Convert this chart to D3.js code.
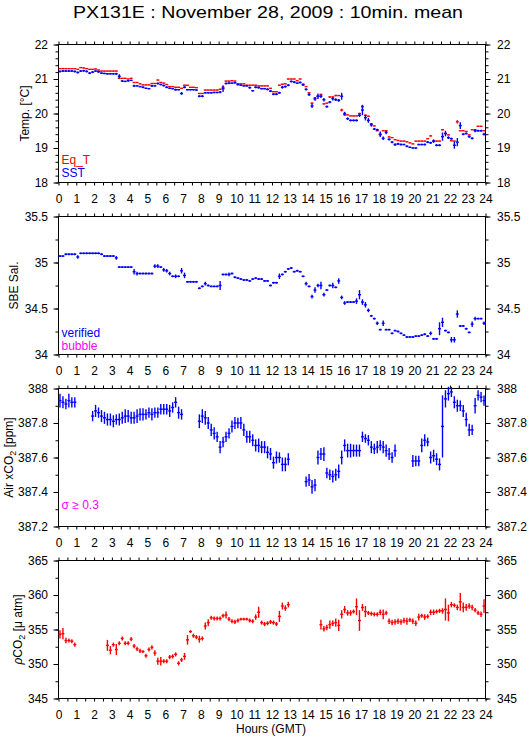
<!DOCTYPE html>
<html><head><meta charset="utf-8">
<script src="https://cdn.jsdelivr.net/npm/d3@7"></script>
<style>
body{margin:0;background:#fff}
svg{display:block}
text{font-family:"Liberation Sans",Arial,Helvetica,sans-serif;fill:#000}
</style>
</head><body>
<svg id="chart" width="529" height="739"></svg>
<script>
// ---------- categories / ticks ----------
const hourLabels = ["0","1","2","3","4","5","6","7","8","9","10","11","12","13","14","15","16","17","18","19","20","21","22","23","24"];
const tempTicks = [18,19,20,21,22];
const salTicks = [34,34.5,35,35.5];
const airTicks = [387.2,387.4,387.6,387.8,388];
const pco2Ticks = [345,350,355,360,365];

// 10-minute slots (minutes of day, centre of each slot)
const slotMinutes = d3.range(5, 1440, 10);

// ---------- series (one row per hour, six 10-min means each) ----------
const eqT = [
 21.30,21.30,21.30,21.30,21.30,21.30,
 21.28,21.33,21.32,21.30,21.28,21.28,
 21.29,21.26,21.23,21.23,21.23,21.23,
 21.23,21.23,21.02,21.02,21.02,21.00,
 21.02,20.90,20.90,20.86,20.83,20.83,
 20.83,20.87,20.87,20.97,20.90,20.88,
 20.84,20.78,20.78,20.76,20.76,20.73,
 20.82,20.82,20.76,20.76,20.75,20.58,
 20.58,20.68,20.68,20.68,20.68,20.68,
 20.70,20.76,20.94,20.94,20.95,20.94,
 20.86,20.86,20.86,20.82,20.82,20.82,
 20.82,20.80,20.80,20.80,20.80,20.73,
 20.63,20.63,20.82,20.85,20.86,21.00,
 21.00,21.00,20.95,21.00,20.85,20.78,
 20.60,20.30,20.45,20.50,20.55,20.28,
 20.30,20.48,20.48,20.52,20.52,20.10,
 19.96,19.96,19.93,19.93,19.93,20.00,
 20.20,19.95,19.92,19.70,19.64,19.50,
 19.38,19.50,19.50,19.32,19.30,19.24,
 19.22,19.20,19.20,19.18,19.15,19.12,
 19.20,19.20,19.20,19.20,19.27,19.35,
 19.20,19.20,19.20,19.53,19.42,19.38,
 19.21,19.20,19.76,19.50,19.50,19.48,
 19.38,19.53,19.53,19.63,19.63,19.50];
const eqTSd = [
 .01,.01,.01,.01,.01,.01, .01,.01,.01,.01,.01,.01, .01,.01,.01,.01,.01,.01, .01,.01,.01,.01,.01,.01,
 .01,.01,.01,.01,.01,.01, .01,.01,.01,.01,.01,.01, .01,.01,.01,.01,.01,.01, .01,.01,.01,.01,.01,.01,
 .01,.01,.01,.01,.01,.01, .02,.02,.01,.01,.01,.01, .01,.01,.01,.01,.01,.01, .01,.01,.01,.01,.01,.01,
 .01,.01,.01,.01,.01,.01, .01,.01,.01,.01,.01,.01, .01,.02,.02,.03,.02,.02, .01,.02,.01,.02,.01,.04,
 .02,.01,.01,.01,.01,.02, .05,.02,.02,.01,.01,.01, .01,.01,.02,.01,.01,.01, .01,.01,.01,.01,.01,.01,
 .01,.01,.01,.01,.01,.01, .01,.01,.01,.02,.02,.01, .01,.01,.05,.01,.01,.01, .01,.01,.01,.01,.01,.01];

const sst = [
 21.22,21.23,21.23,21.23,21.23,21.22,
 21.19,21.23,21.24,21.22,21.17,21.20,
 21.23,21.21,21.17,21.16,21.15,21.15,
 21.15,21.15,21.08,20.94,20.93,20.95,
 20.96,20.80,20.80,20.78,20.76,20.73,
 20.72,20.80,20.80,20.87,20.84,20.81,
 20.76,20.73,20.72,20.69,20.69,20.58,
 20.76,20.69,20.69,20.69,20.68,20.50,
 20.50,20.60,20.60,20.60,20.61,20.61,
 20.62,20.72,20.87,20.88,20.88,20.89,
 20.84,20.82,20.80,20.80,20.75,20.66,
 20.76,20.75,20.72,20.72,20.70,20.65,
 20.56,20.56,20.60,20.76,20.78,20.82,
 20.93,20.91,20.88,20.90,20.83,20.70,
 20.55,20.22,20.42,20.50,20.50,20.40,
 20.20,20.33,20.43,20.40,20.38,20.50,
 20.00,19.85,19.80,19.80,19.80,19.95,
 20.10,19.88,19.80,19.67,19.55,19.53,
 19.40,19.28,19.45,19.25,19.17,19.10,
 19.12,19.10,19.10,19.05,19.02,19.00,
 19.00,19.10,19.10,19.10,19.17,19.15,
 19.20,19.08,19.08,19.33,19.42,19.30,
 19.27,19.08,19.17,19.65,19.40,19.42,
 19.33,19.28,19.50,19.50,19.50,19.40];
const sstSd = [
 .03,.03,.03,.03,.03,.03, .03,.03,.03,.03,.03,.03, .02,.03,.02,.02,.02,.02, .02,.03,.06,.03,.02,.03,
 .02,.03,.02,.02,.03,.02, .02,.03,.02,.03,.02,.03, .03,.02,.02,.03,.02,.04, .03,.02,.02,.02,.02,.03,
 .03,.02,.02,.02,.02,.02, .03,.10,.03,.03,.02,.02, .03,.02,.02,.02,.03,.02, .03,.03,.02,.02,.03,.03,
 .03,.03,.03,.04,.03,.03, .03,.03,.02,.03,.03,.03, .04,.06,.05,.08,.05,.05, .03,.03,.05,.04,.04,.10,
 .05,.04,.03,.03,.03,.05, .15,.08,.07,.05,.03,.03, .08,.05,.05,.03,.03,.04, .03,.03,.02,.03,.02,.02,
 .02,.02,.02,.03,.03,.03, .05,.03,.03,.12,.08,.04, .03,.10,.12,.10,.03,.03, .03,.03,.04,.03,.03,.04];

const salinity = [
 35.07,35.07,35.09,35.09,35.09,35.09,
 35.06,35.10,35.10,35.10,35.10,35.10,
 35.10,35.10,35.09,35.07,35.07,35.07,
 35.07,35.05,34.95,34.95,34.95,34.95,
 34.95,34.90,34.88,34.88,34.88,34.88,
 34.88,34.88,34.96,34.96,34.95,34.92,
 34.91,34.88,34.85,34.85,34.85,34.91,
 34.86,34.79,34.79,34.79,34.79,34.72,
 34.74,34.77,34.75,34.74,34.74,34.74,
 34.75,34.87,34.87,34.87,34.88,34.84,
 34.83,34.82,34.81,34.81,34.80,34.82,
 34.83,34.82,34.82,34.80,34.80,34.75,
 34.78,34.78,34.85,34.87,34.90,34.93,
 34.94,34.90,34.91,34.90,34.85,34.77,
 34.74,34.63,34.70,34.75,34.75,34.65,
 34.70,34.75,34.75,34.73,34.80,34.62,
 34.56,34.57,34.57,34.57,34.58,34.65,
 34.57,34.54,34.48,34.42,34.39,34.34,
 34.27,34.34,34.27,34.27,34.23,34.26,
 34.25,34.23,34.21,34.19,34.19,34.19,
 34.20,34.20,34.21,34.22,34.20,34.23,
 34.17,34.17,34.28,34.35,34.26,34.24,
 34.16,34.16,34.44,34.31,34.31,34.28,
 34.24,34.33,34.39,34.39,34.39,34.34];
const salSd = [
 .01,.01,.01,.01,.01,.01, .02,.01,.01,.01,.01,.01, .01,.01,.01,.01,.01,.01, .01,.02,.01,.01,.01,.01,
 .01,.03,.02,.01,.01,.01, .01,.01,.02,.02,.01,.02, .02,.02,.01,.02,.01,.03, .03,.01,.01,.01,.01,.01,
 .01,.02,.01,.01,.01,.01, .05,.01,.01,.02,.01,.01, .01,.01,.01,.01,.01,.01, .01,.01,.01,.01,.01,.01,
 .01,.01,.03,.01,.01,.01, .01,.01,.01,.01,.01,.02, .01,.02,.03,.02,.04,.02, .01,.01,.03,.01,.03,.02,
 .02,.01,.01,.01,.03,.05, .03,.03,.02,.01,.01,.02, .01,.03,.01,.01,.01,.01, .01,.01,.01,.01,.01,.01,
 .01,.01,.01,.01,.01,.02, .01,.01,.07,.05,.01,.01, .03,.03,.04,.01,.01,.01, .01,.03,.02,.01,.01,.02];

const airXCO2 = [
 387.93,387.92,387.91,387.93,387.92,387.92,
 null,null,null,null,null,387.84,
 387.87,387.86,387.84,387.83,387.82,387.82,
 387.81,387.82,387.82,387.83,387.84,387.84,
 387.83,387.83,387.84,387.85,387.85,387.85,
 387.86,387.85,387.86,387.86,387.88,387.88,
 387.88,387.87,387.89,387.92,387.86,387.85,
 null,null,null,null,null,387.81,
 387.84,387.83,387.80,387.76,387.74,387.72,
 387.66,387.69,387.72,387.74,387.78,387.80,
 387.80,387.80,387.76,387.72,387.72,387.70,
 387.67,387.67,387.66,387.66,387.63,387.62,
 387.57,387.60,387.60,387.56,387.56,387.59,
 null,null,null,null,null,387.46,
 387.47,387.43,387.44,387.60,387.62,387.62,
 387.51,387.50,387.49,387.50,387.52,387.60,
 387.67,387.64,387.64,387.64,387.64,387.64,
 387.72,387.71,387.70,387.66,387.65,387.66,
 387.67,387.66,387.64,387.62,387.60,387.64,
 null,null,null,null,null,387.58,
 387.58,387.58,387.67,387.70,387.69,387.60,
 387.61,387.59,387.56,387.78,387.94,387.97,
 387.98,387.92,387.90,387.90,387.87,387.82,
 387.76,387.76,387.90,387.96,387.95,387.93];
const airSd = [
 .04,.035,.03,.04,.03,.03, 0,0,0,0,0,.03, .035,.03,.035,.035,.035,.035, .035,.03,.035,.035,.04,.035,
 .035,.035,.04,.035,.035,.03, .03,.035,.03,.03,.03,.03, .03,.035,.03,.03,.035,.03, 0,0,0,0,0,.04,
 .04,.04,.035,.035,.035,.03, .035,.03,.03,.03,.035,.035, .03,.035,.035,.035,.035,.035, .035,.04,.035,.035,.035,.035,
 .035,.035,.03,.04,.04,.035, 0,0,0,0,0,.03, .035,.04,.035,.04,.035,.04, .03,.03,.035,.035,.04,.04,
 .035,.04,.04,.035,.035,.035, .03,.025,.03,.035,.03,.035, .03,.035,.035,.035,.03,.035, 0,0,0,0,0,.035,
 .03,.03,.04,.035,.025,.035, .035,.035,.035,.18,.05,.04, .03,.035,.035,.03,.035,.04, .035,.03,.045,.03,.03,.03];

const pCO2 = [
 354.3,354.4,353.4,353.4,353.3,352.8,
 null,null,null,null,null,null,
 null,null,null,null,352.7,352.0,
 352.8,352.1,353.0,353.7,353.0,353.0,
 353.6,352.6,352.2,351.9,351.8,351.2,
 352.1,352.4,351.6,350.4,350.4,350.4,
 350.4,351.0,351.1,351.4,350.1,350.6,
 351.1,353.5,354.7,354.1,353.9,353.6,
 353.7,355.5,356.0,356.7,356.6,356.6,
 356.6,357.0,357.1,356.5,356.2,356.1,
 356.3,356.5,356.5,356.5,356.3,356.2,
 356.8,357.5,356.0,355.8,355.9,356.1,
 356.0,355.8,356.9,358.4,358.1,358.6,
 null,null,null,null,null,null,
 null,null,null,null,355.7,355.1,
 355.3,355.7,355.9,356.0,355.6,357.2,
 357.9,357.4,357.4,357.6,358.3,356.3,
 358.2,357.6,357.4,357.3,357.2,357.2,
 357.5,357.2,357.4,356.2,356.0,356.1,
 356.2,356.1,356.3,356.2,356.4,356.2,
 355.9,356.8,357.0,356.8,356.9,357.5,
 357.5,357.6,357.7,357.7,357.9,357.4,
 358.6,358.5,358.2,359.0,358.2,358.2,
 358.4,358.2,357.8,357.4,357.2,358.4];
const pco2Sd = [
 .6,.8,.4,.3,.3,.3, 0,0,0,0,0,0, 0,0,0,0,.8,.6, .3,.8,.3,.3,.3,.3, .3,.3,.3,.3,.2,.3,
 .3,.3,.4,.5,.6,.3, .3,.3,.3,.3,.3,.3, .5,.7,.2,.3,.3,.5, .3,.5,.5,.3,.3,.3, .3,.3,.5,.3,.3,.3,
 .3,.2,.2,.2,.3,.3, .4,.8,.3,.3,.3,.3, .3,.3,.8,.5,.4,.4, 0,0,0,0,0,0, 0,0,0,0,.7,.4,
 .4,.6,.4,.6,.8,.6, .5,.4,.4,.3,1.2,1.5, .5,.8,.3,.3,.3,.3, .4,.7,.3,.4,.4,.4, .4,.4,.4,.5,.3,.4,
 .4,.5,.3,.4,.3,.4, .4,.3,.3,.4,1.6,1.2, .4,.3,.4,1.3,.7,.5, .4,.4,.3,.3,.4,1.0];

// ---------- layout ----------
const svg = d3.select("#chart");
const x = d3.scaleLinear().domain([0, 24]).range([58.5, 485.5]);
const panelH = 138, panelTops = [44.5, 216.5, 388.5, 560.5];
const FONT = 12;

svg.append("text").attr("x", 268).attr("y", 17.5).attr("text-anchor", "middle")
  .attr("font-size", 17).attr("textLength", 390).attr("lengthAdjust", "spacingAndGlyphs")
  .text("PX131E : November 28, 2009 : 10min. mean");

function drawPanel(top, domain, majors, minorStep, fmt) {
  const y = d3.scaleLinear().domain(domain).range([top + panelH, top]);
  const g = svg.append("g");
  const minors = d3.range(domain[0], domain[1] + minorStep / 2, minorStep);
  const halfHours = d3.range(0, 24.01, 0.5);
  const clean = s => s.select(".domain").remove();
  // x axes
  g.append("g").attr("transform", `translate(0,${top})`)
    .call(d3.axisTop(x).tickValues(halfHours).tickSize(3).tickFormat("")).call(clean);
  g.append("g").attr("transform", `translate(0,${top + panelH})`)
    .call(d3.axisBottom(x).tickValues(halfHours).tickSize(3).tickFormat("")).call(clean);
  g.append("g").attr("transform", `translate(0,${top + panelH})`)
    .call(d3.axisBottom(x).tickValues(d3.range(0, 25)).tickSize(0).tickPadding(12)
      .tickFormat((d, i) => hourLabels[i])).call(clean)
    .selectAll("text").attr("font-size", FONT).attr("font-family", null);
  // y axes
  [[d3.axisLeft, 58.5, 5.5], [d3.axisRight, 485.5, 6.5]].forEach(([ax, px, pad]) => {
    g.append("g").attr("transform", `translate(${px},0)`)
      .call(ax(y).tickValues(minors).tickSize(3).tickFormat("")).call(clean);
    g.append("g").attr("transform", `translate(${px},0)`)
      .call(ax(y).tickValues(majors).tickSize(5).tickPadding(pad).tickFormat(fmt)).call(clean)
      .selectAll("text").attr("font-size", FONT).attr("font-family", null);
  });
  g.selectAll(".tick line").attr("stroke", "#000");
  g.selectAll("g").attr("font-family", null);
  g.append("rect").attr("x", 58.5).attr("y", top).attr("width", 427).attr("height", panelH)
    .attr("fill", "none").attr("stroke", "#000").attr("stroke-width", 1);
  return y;
}

function drawSeries(y, vals, sds, color) {
  const half = 5 / 60;
  const pts = vals.map((v, i) => ({t: slotMinutes[i] / 60, v, s: sds[i]})).filter(d => d.v != null);
  const g = svg.append("g").attr("stroke", color).attr("stroke-width", 1.4).attr("fill", "none");
  g.selectAll("line.h").data(pts).join("line").attr("class", "h")
    .attr("x1", d => x(d.t - half)).attr("x2", d => x(d.t + half))
    .attr("y1", d => y(d.v)).attr("y2", d => y(d.v));
  g.selectAll("line.v").data(pts).join("line").attr("class", "v")
    .attr("x1", d => x(d.t)).attr("x2", d => x(d.t))
    .attr("y1", d => y(d.v - d.s)).attr("y2", d => y(d.v + d.s));
}

const yT = drawPanel(panelTops[0], [18, 22], tempTicks, 0.2, d3.format("d"));
drawSeries(yT, eqT, eqTSd, "#ff0000");
drawSeries(yT, sst, sstSd, "#0000ff");

const yS = drawPanel(panelTops[1], [34, 35.5], salTicks, 0.25, d => String(d));
drawSeries(yS, salinity, salSd, "#0000ff");

const yA = drawPanel(panelTops[2], [387.2, 388], airTicks, 0.1, d => String(d));
drawSeries(yA, airXCO2, airSd, "#0000ff");

const yP = drawPanel(panelTops[3], [345, 365], pco2Ticks, 2.5, d3.format("d"));
drawSeries(yP, pCO2, pco2Sd, "#ff0000");

// axis titles
function vLabel(xp, yp, build) {
  const t = svg.append("text").attr("transform", `translate(${xp},${yp}) rotate(-90)`)
    .attr("text-anchor", "middle").attr("font-size", FONT);
  build(t);
}
vLabel(28.5, 113.5, t => t.text("Temp. [°C]"));
vLabel(17.5, 285.5, t => t.text("SBE Sal."));
vLabel(12.5, 457.5, t => {
  t.append("tspan").text("Air xCO");
  t.append("tspan").attr("font-size", 9).attr("dy", 3).text("2");
  t.append("tspan").attr("dy", -3).text(" [ppm]");
});
vLabel(22, 629.5, t => {
  t.append("tspan").attr("font-style", "italic").text("ρ");
  t.append("tspan").text("CO");
  t.append("tspan").attr("font-size", 9).attr("dy", 3).text("2");
  t.append("tspan").attr("dy", -3).text(" [μ atm]");
});

// legends
const legend = (xp, yp, txt, col) => svg.append("text").attr("x", xp).attr("y", yp)
  .attr("font-size", FONT).style("fill", col).text(txt);
legend(61.5, 163.5, "Eq_T", "#ff0000");
legend(61.5, 177, "SST", "#0000ff");
legend(61.5, 336.5, "verified", "#0000ff");
legend(61.5, 349.5, "bubble", "#ff00ff");
legend(61.5, 508.5, "σ ≥ 0.3", "#ff00ff");

svg.append("text").attr("x", 271).attr("y", 733).attr("text-anchor", "middle")
  .attr("font-size", FONT).text("Hours (GMT)");
</script>
</body></html>
